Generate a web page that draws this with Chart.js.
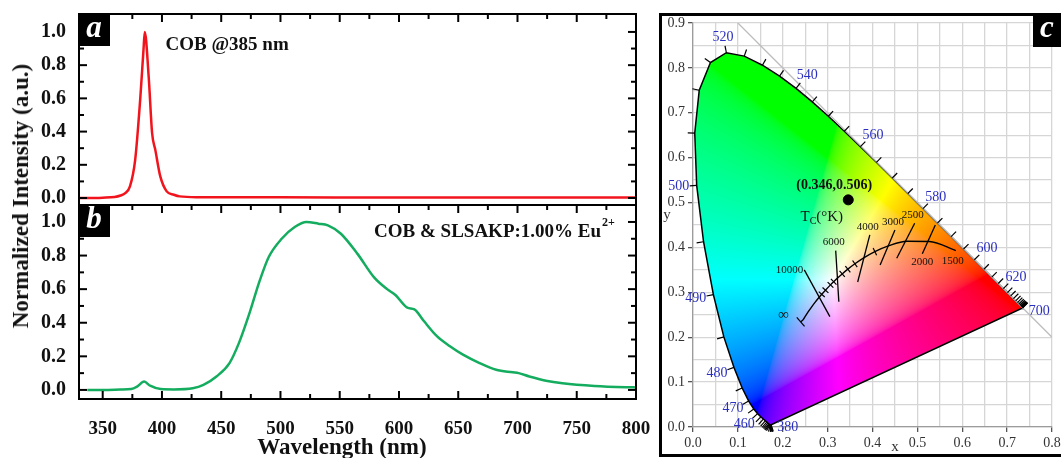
<!DOCTYPE html>
<html>
<head>
<meta charset="utf-8">
<script src="https://cdn.jsdelivr.net/npm/chart.js@4.4.0/dist/chart.umd.min.js"></script>
<style>
  body { margin: 0; width: 1061px; height: 458px; position: relative; overflow: hidden; background: #fff; }
  canvas { position: absolute; }
  #chartA { left: 0; top: 0; }
  #chartB { left: 0; top: 205px; }
  #chartC { left: 655px; top: 0; }
  #frameC { position: absolute; left: 659px; top: 13px; width: 420px; height: 444px; box-sizing: border-box; border: 3px solid #000; }
  .title { position: absolute; font: bold 23px "Liberation Serif", "Times New Roman", serif; white-space: nowrap; color: #111; }
  #yTitle { left: 21px; top: 196px; transform: translate(-50%, -50%) rotate(-90deg); }
  #xTitle { left: 342px; top: 447px; transform: translate(-50%, -50%); }
</style>
</head>
<body>
<div id="frameC"></div>
<canvas id="chartA" width="655" height="210"></canvas>
<canvas id="chartB" width="655" height="253"></canvas>
<canvas id="chartC" width="406" height="458"></canvas>
<div class="title" id="yTitle">Normalized Intensity (a.u.)</div>
<div class="title" id="xTitle">Wavelength (nm)</div>
<script>
const serif = '"Liberation Serif", "Times New Roman", serif';

// COB chip alone
const cobWl  = [330, 340, 350, 360, 365, 369, 373, 377.4, 381.6, 384.4, 385.5, 388.8, 391.7, 394.4, 398.6, 404, 410, 415, 430, 500, 600, 700, 800];
const cobInt = [0, 0, 0.002, 0.006, 0.015, 0.03, 0.07, 0.23, 0.59, 0.89, 1.0, 0.73, 0.39, 0.29, 0.13, 0.04, 0.02, 0.01, 0.005, 0.004, 0.003, 0.003, 0.003];

// COB + phosphor
const phWl  = [337, 350, 365, 374, 379, 385, 390, 399, 410, 426, 435, 446, 457, 465, 474, 482, 490, 501, 512, 522, 532, 540, 551, 565, 579, 590, 597, 607, 613, 621, 632, 643, 654, 668, 682, 696, 701, 710, 724, 738, 765, 793, 800];
const phInt = [0, 0, 0.002, 0.005, 0.02, 0.05, 0.025, 0.005, 0.003, 0.01, 0.03, 0.08, 0.16, 0.28, 0.46, 0.64, 0.79, 0.90, 0.97, 1.0, 0.99, 0.98, 0.93, 0.81, 0.67, 0.60, 0.565, 0.49, 0.48, 0.41, 0.32, 0.26, 0.21, 0.16, 0.12, 0.105, 0.10, 0.08, 0.055, 0.04, 0.024, 0.016, 0.015];

const wlTicks = [350, 400, 450, 500, 550, 600, 650, 700, 750, 800];
const intTicks = [0, 0.2, 0.4, 0.6, 0.8, 1.0];

// CIE 1931 spectral locus, 380-700 nm every 5 nm
const locusWl = [380,385,390,395,400,405,410,415,420,425,430,435,440,445,450,455,460,465,470,475,480,485,490,495,500,505,510,515,520,525,530,535,540,545,550,555,560,565,570,575,580,585,590,595,600,605,610,615,620,625,630,635,640,645,650,655,660,665,670,675,680,685,690,695,700];
const locusX = [0.1741,0.1740,0.1738,0.1736,0.1733,0.1730,0.1726,0.1721,0.1714,0.1703,0.1689,0.1669,0.1644,0.1611,0.1566,0.1510,0.1440,0.1355,0.1241,0.1096,0.0913,0.0687,0.0454,0.0235,0.0082,0.0039,0.0139,0.0389,0.0743,0.1142,0.1547,0.1929,0.2296,0.2658,0.3016,0.3373,0.3731,0.4087,0.4441,0.4788,0.5125,0.5448,0.5752,0.6029,0.6270,0.6482,0.6658,0.6801,0.6915,0.7006,0.7079,0.7140,0.7190,0.7230,0.7260,0.7283,0.7300,0.7311,0.7320,0.7327,0.7334,0.7340,0.7344,0.7346,0.7347];
const locusY = [0.0050,0.0050,0.0049,0.0049,0.0048,0.0048,0.0048,0.0048,0.0051,0.0058,0.0069,0.0086,0.0109,0.0138,0.0177,0.0227,0.0297,0.0399,0.0578,0.0868,0.1327,0.2007,0.2950,0.4127,0.5384,0.6548,0.7502,0.8120,0.8338,0.8262,0.8059,0.7816,0.7543,0.7243,0.6923,0.6589,0.6245,0.5896,0.5547,0.5202,0.4866,0.4544,0.4242,0.3965,0.3725,0.3514,0.3340,0.3197,0.3083,0.2993,0.2920,0.2859,0.2809,0.2770,0.2740,0.2717,0.2700,0.2689,0.2680,0.2673,0.2666,0.2660,0.2656,0.2654,0.2653];
const locusLabels = [380, 460, 470, 480, 490, 500, 520, 540, 560, 580, 600, 620, 700];

// Planckian locus
const planckT = [Infinity, 50000, 30000, 20000, 15000, 12000, 10000, 9000, 8000, 7000, 6500, 6000, 5500, 5000, 4500, 4000, 3500, 3000, 2500, 2000, 1500];
const planckX = [0.2399, 0.2451, 0.2501, 0.2565, 0.2637, 0.2719, 0.2807, 0.2869, 0.2952, 0.3064, 0.3135, 0.3221, 0.3324, 0.3451, 0.3608, 0.3805, 0.4053, 0.4369, 0.4770, 0.5267, 0.5857];
const planckY = [0.2342, 0.2386, 0.2465, 0.2564, 0.2666, 0.2776, 0.2884, 0.2956, 0.3048, 0.3166, 0.3236, 0.3318, 0.3410, 0.3516, 0.3636, 0.3768, 0.3907, 0.4041, 0.4137, 0.4133, 0.3931];
const planckTicks = [Infinity, 9000, 8000, 7000, 6500, 5500, 5000, 4500, 3500];

// isotemperature lines
const isoTemps  = [10000, 6000, 4000, 3000, 2500, 2000];
const isoStartX = [0.248, 0.318, 0.394, 0.450, 0.494, 0.540];
const isoStartY = [0.350, 0.393, 0.428, 0.439, 0.454, 0.450];
const isoEndX   = [0.305, 0.325, 0.367, 0.417, 0.454, 0.511];
const isoEndY   = [0.246, 0.279, 0.323, 0.361, 0.376, 0.386];

const cieX = [0.346];
const cieY = [0.506];
const cieTickLabels = [0, 0.1, 0.2, 0.3, 0.4, 0.5, 0.6, 0.7, 0.8, 0.9];

const toPoints = (xs, ys) => xs.map((v, i) => ({ x: v, y: ys[i] }));
const setTicks = values => scale => { scale.ticks = values.map(v => ({ value: v })); };
// fixed axis size, no extra room reserved for end labels
const fixSize = (w, h) => s => {
  if (w != null) s.width = w;
  if (h != null) s.height = h;
  s.paddingTop = s.paddingBottom = s.paddingLeft = s.paddingRight = 0;
};

// frame, inward ticks, panel letter and sample name
const panelDecor = {
  id: 'panelDecor',
  afterDatasetsDraw(chart, args, opts) {
    const { ctx, chartArea: a, scales: { x, y } } = chart;
    ctx.save();
    ctx.strokeStyle = '#000';
    ctx.lineWidth = 2;
    const seg = (x1, y1, x2, y2) => { ctx.beginPath(); ctx.moveTo(x1, y1); ctx.lineTo(x2, y2); ctx.stroke(); };
    for (let v = 350; v <= 800; v += 25) {
      const px = x.getPixelForValue(v);
      const len = v % 50 === 0 ? 8 : 5;
      if (opts.sides.includes('top')) seg(px, a.top, px, a.top + len);
      if (opts.sides.includes('bottom')) seg(px, a.bottom, px, a.bottom - len);
    }
    for (let k = 0; k <= 10; k++) {
      const py = y.getPixelForValue(k / 10);
      const len = k % 2 === 0 ? 8 : 5;
      if (opts.sides.includes('left')) seg(a.left, py, a.left + len, py);
      if (opts.sides.includes('right')) seg(a.right, py, a.right - len, py);
    }
    ctx.strokeRect(a.left, a.top, a.right - a.left, a.bottom - a.top);

    ctx.fillStyle = '#000';
    ctx.fillRect(a.left, a.top, 31, 32);
    ctx.fillStyle = '#fff';
    ctx.font = 'italic bold 31px ' + serif;
    ctx.textAlign = 'center';
    ctx.textBaseline = 'middle';
    ctx.fillText(opts.letter, a.left + 15, a.top + 15);

    ctx.fillStyle = '#111';
    ctx.font = 'bold 19px ' + serif;
    ctx.textAlign = 'left';
    const tx = x.getPixelForValue(opts.textAt[0]);
    const ty = y.getPixelForValue(opts.textAt[1]);
    ctx.fillText(opts.text, tx, ty);
    if (opts.sup) {
      const w = ctx.measureText(opts.text).width;
      ctx.font = 'bold 12px ' + serif;
      ctx.fillText(opts.sup, tx + w + 1, ty - 9);
    }
    ctx.restore();
  }
};

const tickFont = { family: serif, size: 19, weight: 'bold' };
const yTickFont = { family: serif, size: 20, weight: 'bold' };

new Chart(document.getElementById('chartA'), {
  type: 'line',
  data: {
    datasets: [{
      data: toPoints(cobWl, cobInt),
      borderColor: '#f2141c',
      borderWidth: 2.5,
      pointRadius: 0,
      cubicInterpolationMode: 'monotone'
    }]
  },
  options: {
    responsive: false,
    animation: false,
    layout: { padding: { top: 14, right: 19, bottom: 5, left: 0 } },
    plugins: {
      legend: { display: false },
      tooltip: { enabled: false },
      panelDecor: { sides: ['top', 'left', 'right'], letter: 'a', text: 'COB @385 nm', textAt: [403, 0.92] }
    },
    scales: {
      x: { type: 'linear', min: 330, max: 800, display: false },
      y: {
        min: -0.042, max: 1.108,
        afterFit: fixSize(79, null),
        afterBuildTicks: setTicks(intTicks),
        grid: { display: false },
        border: { display: false },
        ticks: { font: yTickFont, color: '#111', padding: 5, callback: v => v.toFixed(1) }
      }
    }
  },
  plugins: [panelDecor]
});

new Chart(document.getElementById('chartB'), {
  type: 'line',
  data: {
    datasets: [{
      data: toPoints(phWl, phInt),
      borderColor: '#14ac5e',
      borderWidth: 2.5,
      pointRadius: 0,
      cubicInterpolationMode: 'monotone'
    }]
  },
  options: {
    responsive: false,
    animation: false,
    layout: { padding: { top: 0, right: 19, bottom: 0, left: 0 } },
    plugins: {
      legend: { display: false },
      tooltip: { enabled: false },
      panelDecor: { sides: ['top', 'bottom', 'left', 'right'], letter: 'b', text: 'COB & SLSAKP:1.00% Eu', sup: '2+', textAt: [579, 0.94] }
    },
    scales: {
      x: {
        type: 'linear', min: 330, max: 800,
        afterFit: fixSize(null, 59),
        afterBuildTicks: setTicks(wlTicks),
        grid: { display: false },
        border: { display: false },
        ticks: { font: tickFont, color: '#111', padding: 11, maxRotation: 0, autoSkip: false }
      },
      y: {
        min: -0.054, max: 1.101,
        afterFit: fixSize(79, null),
        afterBuildTicks: setTicks(intTicks),
        grid: { display: false },
        border: { display: false },
        ticks: { font: yTickFont, color: '#111', padding: 5, callback: v => v.toFixed(1) }
      }
    }
  },
  plugins: [panelDecor]
});

// chromaticity -> display colour
function xyToRgb(x, y) {
  if (y <= 0.0005) return [255, 255, 255];
  const X = x / y, Y = 1, Z = (1 - x - y) / y;
  let r = 3.2406 * X - 1.5372 * Y - 0.4986 * Z;
  let g = -0.9689 * X + 1.8758 * Y + 0.0415 * Z;
  let b = 0.0557 * X - 0.2040 * Y + 1.0570 * Z;
  r = Math.max(r, 0); g = Math.max(g, 0); b = Math.max(b, 0);
  const m = Math.max(r, g, b) || 1;
  const gam = c => { c /= m; return 255 * (c <= 0.0031308 ? 12.92 * c : 1.055 * Math.pow(c, 1 / 2.4) - 0.055); };
  return [gam(r), gam(g), gam(b)];
}

const cieFill = {
  id: 'cieFill',
  beforeDatasetsDraw(chart) {
    const { ctx, chartArea: a, scales: { x, y } } = chart;
    const w = Math.ceil(a.right - a.left), h = Math.ceil(a.bottom - a.top);
    const off = document.createElement('canvas');
    off.width = w; off.height = h;
    const octx = off.getContext('2d');
    const img = octx.createImageData(w, h);
    for (let j = 0; j < h; j++) {
      const cy = y.getValueForPixel(a.top + j + 0.5);
      for (let i = 0; i < w; i++) {
        const cx = x.getValueForPixel(a.left + i + 0.5);
        const [r, g, b] = xyToRgb(cx, cy);
        const k = (j * w + i) * 4;
        img.data[k] = r; img.data[k + 1] = g; img.data[k + 2] = b; img.data[k + 3] = 255;
      }
    }
    octx.putImageData(img, 0, 0);
    ctx.save();
    ctx.beginPath();
    locusX.forEach((v, k) => {
      const px = x.getPixelForValue(v), py = y.getPixelForValue(locusY[k]);
      if (k) ctx.lineTo(px, py); else ctx.moveTo(px, py);
    });
    ctx.closePath();
    ctx.clip();
    ctx.drawImage(off, a.left, a.top);
    ctx.restore();
  }
};

// unit normal of a polyline at index k, in pixels, pointing away from a given point
function normalAt(xs, ys, k, away) {
  const n = xs.length;
  const p0 = [xs[Math.max(k - 1, 0)], ys[Math.max(k - 1, 0)]];
  const p1 = [xs[Math.min(k + 1, n - 1)], ys[Math.min(k + 1, n - 1)]];
  const tx = p1[0] - p0[0], ty = p1[1] - p0[1];
  const len = Math.hypot(tx, ty) || 1;
  let nx = ty / len, ny = -tx / len;
  if (away && nx * (xs[k] - away[0]) + ny * (ys[k] - away[1]) < 0) { nx = -nx; ny = -ny; }
  return [nx, ny];
}

const cieDecor = {
  id: 'cieDecor',
  afterDatasetsDraw(chart) {
    const { ctx, chartArea: a, scales: { x, y } } = chart;
    const px = locusX.map(v => x.getPixelForValue(v));
    const py = locusY.map(v => y.getPixelForValue(v));
    const white = [x.getPixelForValue(0.33), y.getPixelForValue(0.33)];
    ctx.save();
    ctx.strokeStyle = '#000';
    ctx.lineWidth = 1.2;
    const seg = (x1, y1, x2, y2) => { ctx.beginPath(); ctx.moveTo(x1, y1); ctx.lineTo(x2, y2); ctx.stroke(); };

    // wavelength ticks and labels
    ctx.font = '14px ' + serif;
    ctx.fillStyle = '#2b2fc0';
    ctx.textBaseline = 'middle';
    locusWl.forEach((wl, k) => {
      const [nx, ny] = normalAt(px, py, k, white);
      const ends = k === 0 || k === locusWl.length - 1;
      if (!ends) seg(px[k], py[k], px[k] + nx * 7, py[k] + ny * 7);
      if (!locusLabels.includes(wl)) return;
      if (ends) {
        ctx.textAlign = 'left';
        ctx.fillText(String(wl), px[k] + 6, py[k] + 3);
      } else {
        ctx.textAlign = 'center';
        ctx.fillText(String(wl), px[k] + nx * 18, py[k] + ny * 16);
      }
    });

    // small ticks on the Planckian locus
    const qx = planckX.map(v => x.getPixelForValue(v));
    const qy = planckY.map(v => y.getPixelForValue(v));
    planckTicks.forEach(t => {
      const k = planckT.indexOf(t);
      const [nx, ny] = normalAt(qx, qy, k);
      const h = t === Infinity ? 6 : 4;
      seg(qx[k] - nx * h, qy[k] - ny * h, qx[k] + nx * h, qy[k] + ny * h);
    });

    // temperature labels
    ctx.fillStyle = '#111';
    ctx.font = '11px ' + serif;
    isoTemps.forEach((t, k) => {
      const sx = x.getPixelForValue(isoStartX[k]), sy = y.getPixelForValue(isoStartY[k]);
      const ex = x.getPixelForValue(isoEndX[k]), ey = y.getPixelForValue(isoEndY[k]);
      if (t >= 10000) {
        ctx.textAlign = 'right';
        ctx.fillText(String(t), sx - 1, sy);
      } else if (t > 2000) {
        ctx.textAlign = 'center';
        ctx.fillText(String(t), sx - 2, sy - 8);
      } else {
        ctx.textAlign = 'center';
        ctx.fillText(String(t), ex, ey + 8);
      }
    });
    const last = planckT.length - 1;
    ctx.textAlign = 'center';
    ctx.fillText(String(planckT[last]), qx[last] - 3, qy[last] + 11);
    ctx.font = '15px ' + serif;
    ctx.fillText('\u221E', qx[0] - 17, qy[0] - 7);

    // T_C (°K)
    const lx = x.getPixelForValue(0.287), ly = y.getPixelForValue(0.468);
    ctx.font = '15px ' + serif;
    const wT = ctx.measureText('T').width, wK = ctx.measureText('(\u00B0K)').width;
    ctx.font = '10px ' + serif;
    const wC = ctx.measureText('C').width;
    const cx0 = lx - (wT + wC + wK) / 2;
    ctx.textAlign = 'left';
    ctx.font = '15px ' + serif;
    ctx.fillText('T', cx0, ly);
    ctx.font = '10px ' + serif;
    ctx.fillText('C', cx0 + wT, ly + 4);
    ctx.font = '15px ' + serif;
    ctx.fillText('(\u00B0K)', cx0 + wT + wC, ly);

    // colour point label
    const dx = x.getPixelForValue(cieX[0]), dy = y.getPixelForValue(cieY[0]);
    ctx.font = 'bold 14px ' + serif;
    ctx.textAlign = 'center';
    ctx.fillText('(' + cieX[0].toFixed(3) + ',' + cieY[0].toFixed(3) + ')', dx - 14, dy - 14);

    // axis names
    ctx.font = '15px ' + serif;
    ctx.fillStyle = '#333';
    ctx.fillText('x', x.getPixelForValue(0.45), a.bottom + 20);
    ctx.fillText('y', a.left - 26, y.getPixelForValue(0.472));

    // panel letter
    ctx.fillStyle = '#000';
    ctx.fillRect(chart.width - 28, 14, 28, 33);
    ctx.fillStyle = '#fff';
    ctx.font = 'italic bold 31px ' + serif;
    ctx.fillText('c', chart.width - 14, 29);
    ctx.restore();
  }
};

const cieGrid = [];
for (let k = 0; k <= 18; k++) cieGrid.push(Math.round(k * 5) / 100);
const isLabelled = v => cieTickLabels.some(t => Math.abs(t - v) < 1e-6);

const cieScale = (max, fit) => ({
  type: 'linear', min: 0, max: max,
  afterFit: fit,
  afterBuildTicks: setTicks(cieGrid.filter(v => v <= max + 1e-9)),
  grid: {
    color: '#d6d6d6', lineWidth: 1.3, tickLength: 5,
    tickColor: c => (c.tick && isLabelled(c.tick.value) ? '#555' : 'rgba(0,0,0,0)')
  },
  border: { color: '#9c9c9c', width: 1.3 },
  ticks: {
    font: { family: serif, size: 14 }, color: '#333', padding: 3,
    autoSkip: false, maxRotation: 0,
    callback: v => (isLabelled(v) ? v.toFixed(1) : '')
  }
});

const isoSets = isoTemps.map((t, k) => ({
  data: [{ x: isoStartX[k], y: isoStartY[k] }, { x: isoEndX[k], y: isoEndY[k] }],
  showLine: true, borderColor: '#000', borderWidth: 1.3, pointRadius: 0
}));

new Chart(document.getElementById('chartC'), {
  type: 'scatter',
  data: {
    datasets: [
      { data: [{ x: 0.1, y: 0.9 }, { x: 0.8, y: 0.2 }], showLine: true, borderColor: '#bdbdbd', borderWidth: 1.3, pointRadius: 0 },
      { data: toPoints(locusX, locusY).concat([{ x: locusX[0], y: locusY[0] }]), showLine: true, borderColor: '#000', borderWidth: 1.5, pointRadius: 0 },
      { data: toPoints(planckX, planckY), showLine: true, borderColor: '#000', borderWidth: 1.4, pointRadius: 0, cubicInterpolationMode: 'monotone' },
      ...isoSets,
      { data: toPoints(cieX, cieY), pointRadius: 5, backgroundColor: '#000', borderColor: '#000' }
    ]
  },
  options: {
    responsive: false,
    animation: false,
    layout: { padding: { top: 23, right: 9, bottom: 0, left: 0 } },
    plugins: { legend: { display: false }, tooltip: { enabled: false } },
    scales: {
      x: cieScale(0.8, fixSize(null, 31)),
      y: cieScale(0.9, fixSize(38, null))
    }
  },
  plugins: [cieFill, cieDecor]
});
</script>
</body>
</html>
